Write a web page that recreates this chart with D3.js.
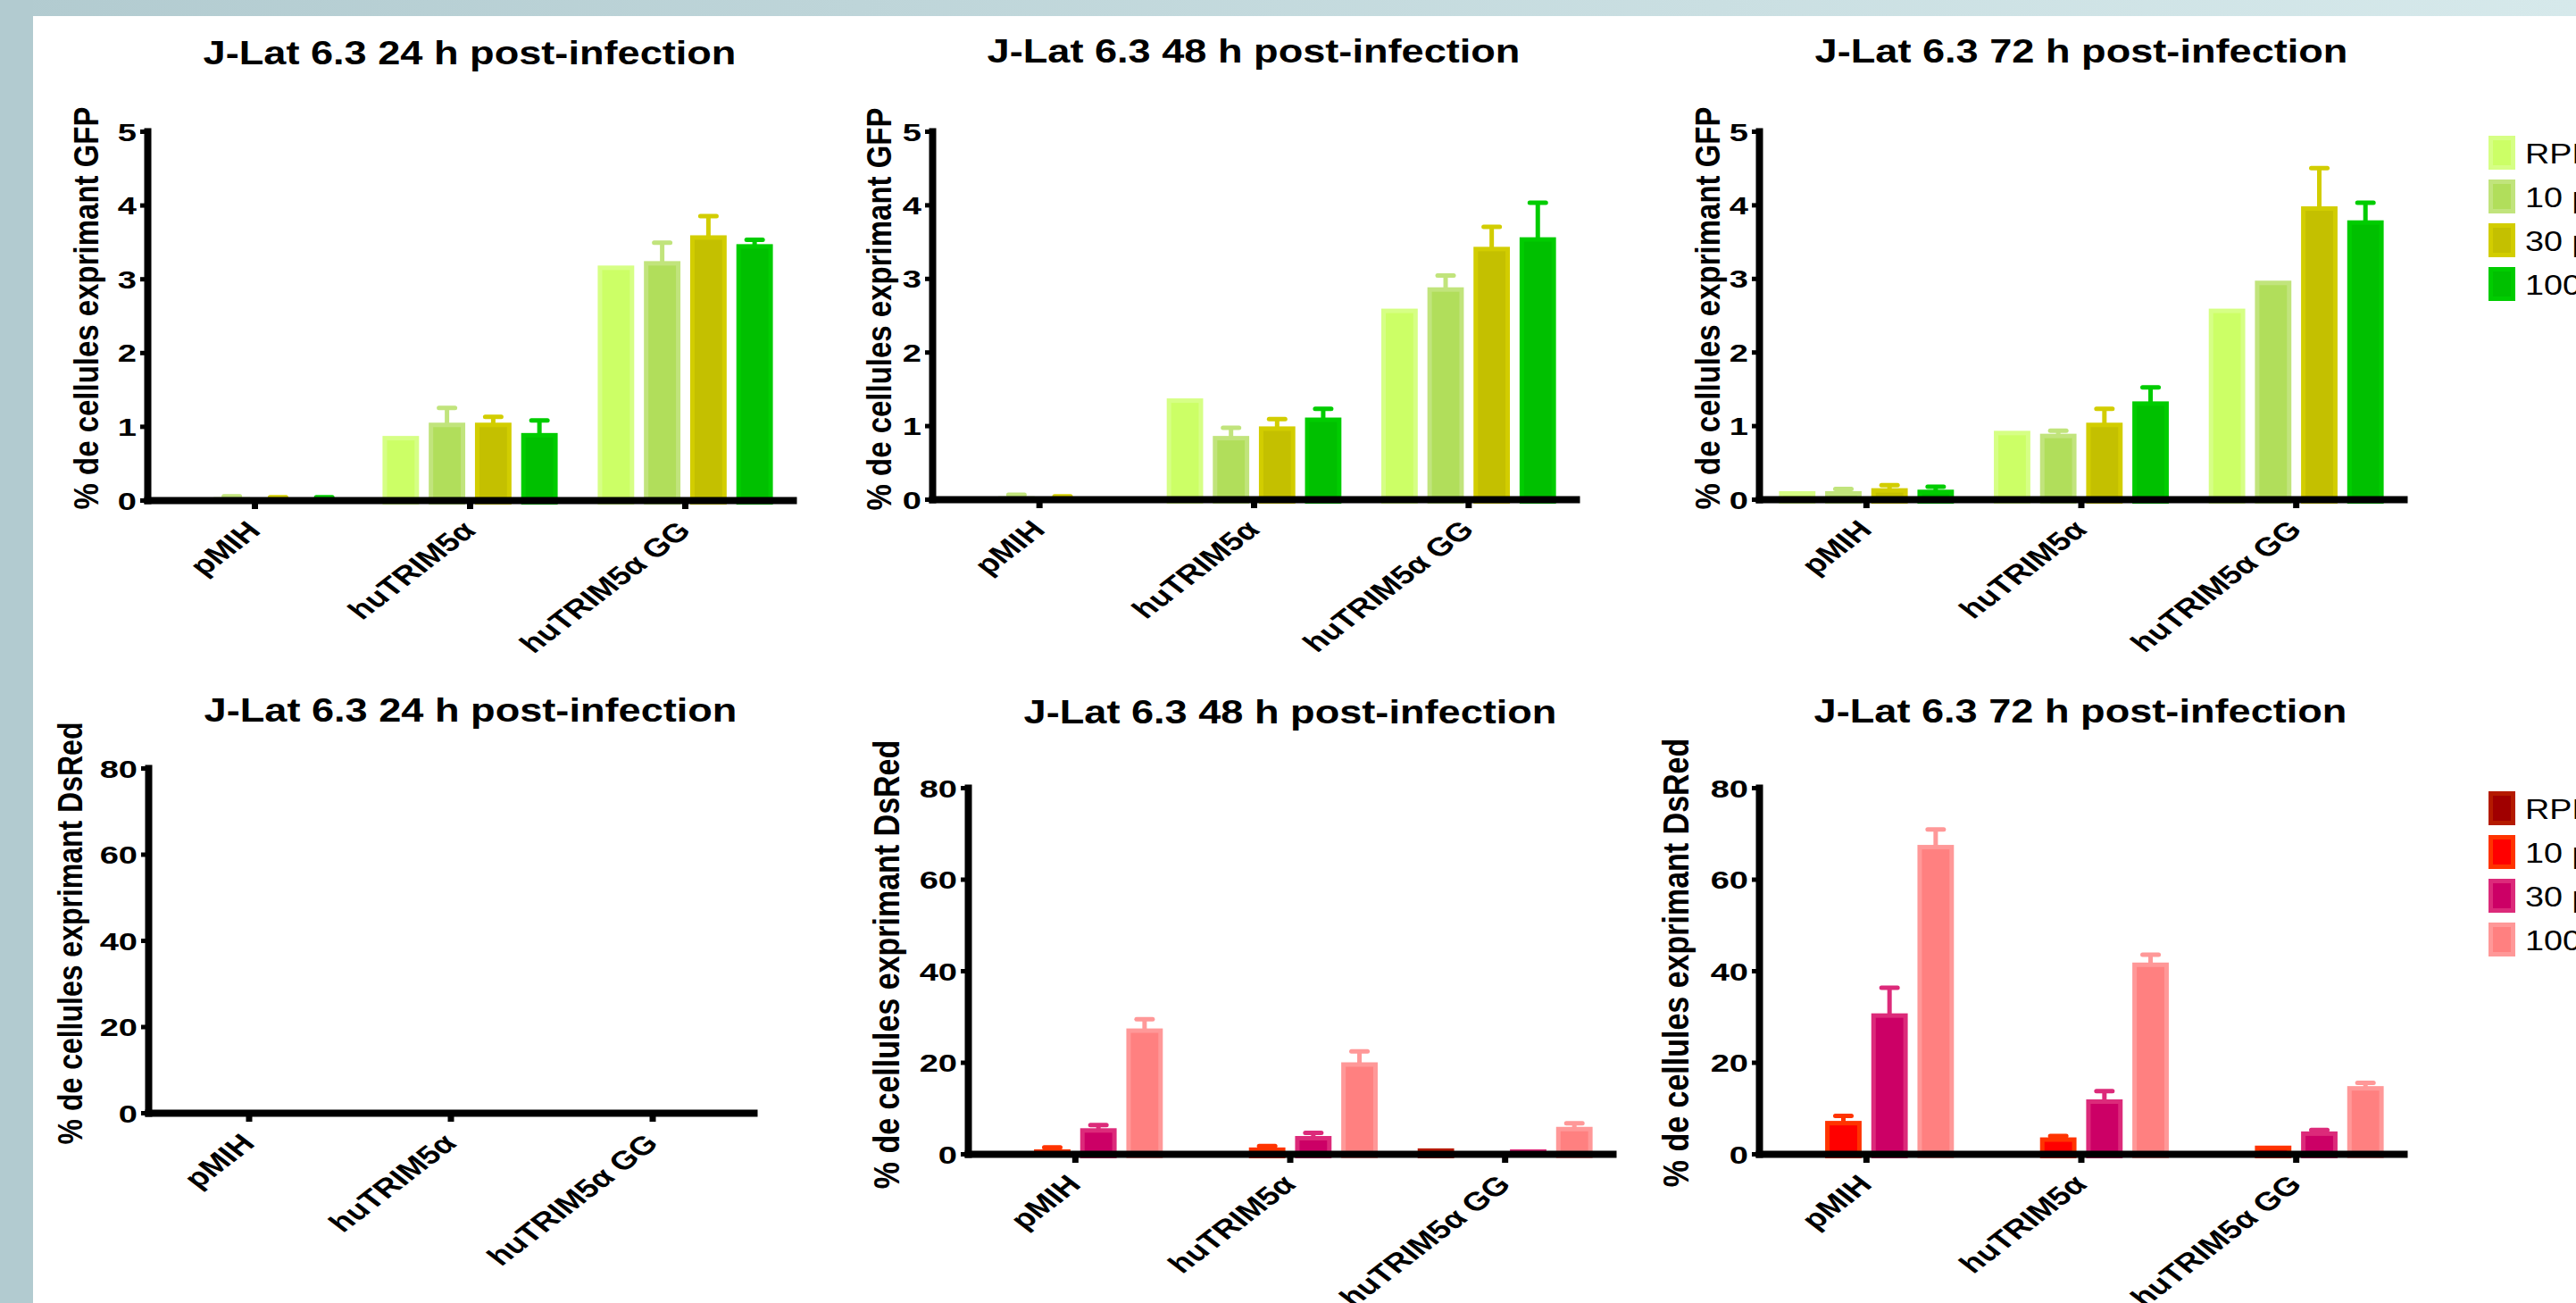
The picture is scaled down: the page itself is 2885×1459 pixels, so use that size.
<!DOCTYPE html>
<html>
<head>
<meta charset="utf-8">
<script src="https://cdn.jsdelivr.net/npm/d3@7"></script>
<style>
body { margin: 0; overflow: hidden; background: #fff; }
text { font-family: "Liberation Sans", Arial, sans-serif; }
</style>
</head>
<body>
<script>
// categories and series
let categories = ["pMIH", "huTRIM5α", "huTRIM5α GG"];
let conditions = ["RPMI", "10 µM", "30 µM", "100 µM"];

let gfpTicks = [0, 1, 2, 3, 4, 5];
let dsredTicks = [0, 20, 40, 60, 80];

// means per category (rows) and condition (cols)
let gfp24 = [[0.02, 0.04, 0.03, 0.03], [0.87, 1.05, 1.05, 0.91], [3.18, 3.24, 3.59, 3.47]];
let gfp24Err = [[0, 0.01, 0.01, 0.01], [0, 0.20, 0.08, 0.17], [0, 0.25, 0.26, 0.06]];
let gfp48 = [[0.02, 0.04, 0.03, 0.02], [1.37, 0.86, 0.99, 1.11], [2.59, 2.88, 3.43, 3.56]];
let gfp48Err = [[0, 0.02, 0.01, 0], [0, 0.11, 0.10, 0.12], [0, 0.16, 0.27, 0.47]];
let gfp72 = [[0.11, 0.11, 0.15, 0.13], [0.93, 0.89, 1.04, 1.33], [2.59, 2.97, 3.98, 3.79]];
let gfp72Err = [[0, 0.03, 0.04, 0.04], [0, 0.04, 0.19, 0.19], [0, 0, 0.52, 0.24]];

let dsred24 = [[0.05, 0.1, 0.2, 0.3], [0.05, 0.1, 0.2, 0.4], [0.1, 0.1, 0.2, 0.2]];
let dsred24Err = [[0, 0, 0, 0], [0, 0, 0, 0], [0, 0, 0, 0]];
let dsred48 = [[0.2, 1.0, 5.6, 27.4], [0.2, 1.4, 3.9, 20.0], [1.2, 0.5, 1.0, 5.9]];
let dsred48Err = [[0, 0.4, 0.7, 2.0], [0, 0.3, 0.7, 2.4], [0, 0, 0, 0.8]];
let dsred72 = [[0.2, 7.2, 30.7, 67.5], [0.4, 3.6, 11.9, 41.8], [0.3, 1.8, 4.9, 14.8]];
let dsred72Err = [[0, 1.1, 5.6, 3.4], [0, 0.3, 1.8, 1.7], [0, 0, 0.3, 0.7]];

let gfpFill = ["#ccff66", "#b1de5b", "#c4c000", "#00c000"];
let gfpEdge = ["#d6ff85", "#c1e47c", "#d2cd00", "#00cc00"];
let redFill = ["#a00000", "#ff0000", "#cc0066", "#ff8080"];
let redEdge = ["#b41a00", "#ff3300", "#dc2a7a", "#ff9898"];

let W = 2885, H = 1459;
let sx = 1.22; // text in the picture is stretched sideways

let svg = d3.select("body").append("svg")
    .attr("width", W)
    .attr("height", H);

// background frame
let defs = svg.append("defs");
let grad = defs.append("linearGradient").attr("id", "band");
grad.append("stop").attr("offset", "0%").attr("stop-color", "#b2cbd0");
grad.append("stop").attr("offset", "100%").attr("stop-color", "#d6e9eb");
svg.append("rect").attr("width", W).attr("height", H).attr("fill", "#fff");
svg.append("rect").attr("width", W).attr("height", 18).attr("fill", "url(#band)");
svg.append("rect").attr("width", 37).attr("height", H).attr("fill", "#b2cbd0");

let panels = [
    {title: "J-Lat 6.3 24 h post-infection", vals: gfp24, errs: gfp24Err, ticks: gfpTicks, ylab: "% de cellules exprimant GFP",
     fill: gfpFill, edge: gfpEdge, x0: 165, x1: 888, yTop: 147, yBot: 560, tx: 526, ty: 72, lx: 96, ly: 345, lfs: 33},
    {title: "J-Lat 6.3 48 h post-infection", vals: gfp48, errs: gfp48Err, ticks: gfpTicks, ylab: "% de cellules exprimant GFP",
     fill: gfpFill, edge: gfpEdge, x0: 1044, x1: 1765, yTop: 147, yBot: 559, tx: 1404, ty: 70, lx: 984, ly: 346, lfs: 33},
    {title: "J-Lat 6.3 72 h post-infection", vals: gfp72, errs: gfp72Err, ticks: gfpTicks, ylab: "% de cellules exprimant GFP",
     fill: gfpFill, edge: gfpEdge, x0: 1970, x1: 2692, yTop: 147, yBot: 559, tx: 2331, ty: 70, lx: 1912, ly: 345, lfs: 33},
    {title: "J-Lat 6.3 24 h post-infection", vals: dsred24, errs: dsred24Err, ticks: dsredTicks, ylab: "% de cellules exprimant DsRed",
     fill: redFill, edge: redEdge, x0: 166, x1: 844, yTop: 860, yBot: 1246, tx: 527, ty: 808, lx: 78, ly: 1045, lfs: 32},
    {title: "J-Lat 6.3 48 h post-infection", vals: dsred48, errs: dsred48Err, ticks: dsredTicks, ylab: "% de cellules exprimant DsRed",
     fill: redFill, edge: redEdge, x0: 1084, x1: 1806, yTop: 882, yBot: 1292, tx: 1445, ty: 810, lx: 993, ly: 1080, lfs: 34},
    {title: "J-Lat 6.3 72 h post-infection", vals: dsred72, errs: dsred72Err, ticks: dsredTicks, ylab: "% de cellules exprimant DsRed",
     fill: redFill, edge: redEdge, x0: 1970, x1: 2692, yTop: 882, yBot: 1292, tx: 2330, ty: 809, lx: 1877, ly: 1078, lfs: 34}
];

panels.forEach(function(p) {
    let x = d3.scaleBand().domain(categories).range([p.x0, p.x1]);
    let half = x.step() * 0.407;
    let x1 = d3.scaleBand().domain(conditions).range([-half, half]).paddingInner(0.21);
    let y = d3.scaleLinear().domain([0, d3.max(p.ticks)]).range([p.yBot, p.yTop]);

    // title
    svg.append("text")
        .attr("transform", "translate(" + p.tx + "," + p.ty + ") scale(" + sx + ",1)")
        .attr("text-anchor", "middle")
        .style("font-size", "37px")
        .style("font-weight", "bold")
        .text(p.title);

    // y label
    svg.append("text")
        .attr("transform", "translate(" + p.lx + "," + p.ly + ") scale(1.2,1) rotate(-90)")
        .attr("text-anchor", "middle")
        .attr("dominant-baseline", "central")
        .style("font-size", p.lfs + "px")
        .style("font-weight", "bold")
        .text(p.ylab);

    // bars
    let rows = [];
    p.vals.forEach((r, ci) => r.forEach((v, si) => rows.push({
        cat: categories[ci], si: si, v: v, e: p.errs[ci][si]
    })));

    let g = svg.append("g");
    rows.forEach(function(d) {
        let bx = x(d.cat) + x.bandwidth() / 2 + x1(conditions[d.si]);
        let bw = x1.bandwidth();
        let top = y(d.v);
        let h = p.yBot - top;
        if (h > 6) {
            g.append("rect")
                .attr("x", bx + 2.5).attr("y", top + 2.5)
                .attr("width", bw - 5).attr("height", h)
                .attr("fill", p.fill[d.si])
                .attr("stroke", p.edge[d.si])
                .attr("stroke-width", 5);
        } else {
            g.append("rect")
                .attr("x", bx).attr("y", top)
                .attr("width", bw).attr("height", h)
                .attr("fill", p.edge[d.si]);
        }
        if (d.e > 0) {
            let cx = bx + bw / 2;
            let et = y(d.v + d.e);
            g.append("line")
                .attr("x1", cx).attr("x2", cx)
                .attr("y1", top + 2).attr("y2", et)
                .attr("stroke", p.edge[d.si]).attr("stroke-width", 5);
            g.append("line")
                .attr("x1", cx - 9).attr("x2", cx + 9)
                .attr("y1", et).attr("y2", et)
                .attr("stroke", p.edge[d.si]).attr("stroke-width", 5)
                .attr("stroke-linecap", "round");
        }
    });

    // y axis
    let ya = svg.append("g")
        .attr("transform", "translate(" + p.x0 + ",0)")
        .call(d3.axisLeft(y).tickValues(p.ticks).tickFormat(d3.format("d")).tickSize(8).tickSizeOuter(0));
    ya.select(".domain").attr("stroke-width", 8).attr("stroke-linecap", "square");
    ya.selectAll(".tick line").attr("stroke-width", 5);
    ya.selectAll(".tick text")
        .attr("x", null).attr("dy", "0.36em")
        .attr("transform", "translate(-12,0) scale(1.36,1)")
        .attr("fill", "#000")
        .style("font-size", "28px")
        .style("font-weight", "bold")
        .style("font-family", "'Liberation Sans', Arial, sans-serif");

    // x axis
    let xa = svg.append("g")
        .attr("transform", "translate(0," + p.yBot + ")")
        .call(d3.axisBottom(x).tickSize(10).tickSizeOuter(0));
    xa.select(".domain").attr("stroke-width", 8).attr("stroke-linecap", "square");
    xa.selectAll(".tick line").attr("stroke-width", 7);
    xa.selectAll(".tick text")
        .attr("y", null).attr("dy", null)
        .attr("text-anchor", "end")
        .attr("transform", "translate(8,36) scale(1.3,1) rotate(-45)")
        .attr("fill", "#000")
        .style("font-size", "29px")
        .style("font-weight", "bold")
        .style("font-family", "'Liberation Sans', Arial, sans-serif");
});

// legends
function drawLegend(top, fills, edges) {
    let lg = svg.append("g");
    conditions.forEach(function(c, i) {
        let yy = top + i * 49;
        lg.append("rect")
            .attr("x", 2789.5).attr("y", yy + 2.5)
            .attr("width", 25).attr("height", 33)
            .attr("fill", fills[i])
            .attr("stroke", edges[i])
            .attr("stroke-width", 5);
        lg.append("text")
            .attr("transform", "translate(2828," + (yy + 31) + ") scale(1.18,1)")
            .style("font-size", "32px")
            .text(c);
    });
}
drawLegend(152, gfpFill, gfpEdge);
drawLegend(886, redFill, redEdge);
</script>
</body>
</html>
